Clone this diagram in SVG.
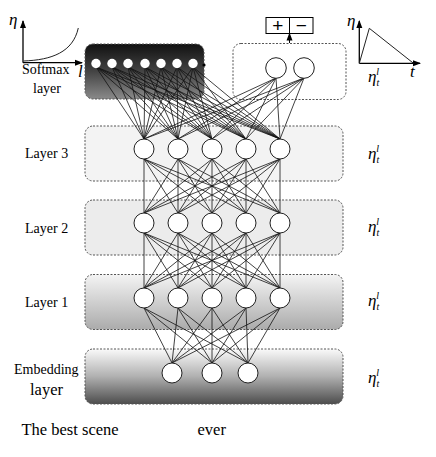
<svg xmlns="http://www.w3.org/2000/svg" width="436" height="457" viewBox="0 0 436 457">
<defs>
<linearGradient id="gSoft" x1="0" y1="0" x2="0" y2="1"><stop offset="0" stop-color="#111"/><stop offset="0.5" stop-color="#444"/><stop offset="1" stop-color="#8a8a8a"/></linearGradient>
<linearGradient id="gL1" x1="0" y1="0" x2="0" y2="1"><stop offset="0" stop-color="#f4f4f4"/><stop offset="1" stop-color="#ababab"/></linearGradient>
<linearGradient id="gEmb" x1="0" y1="0" x2="0" y2="1"><stop offset="0" stop-color="#fafafa"/><stop offset="0.5" stop-color="#b0b0b0"/><stop offset="1" stop-color="#4d4d4d"/></linearGradient>
<marker id="arr" markerUnits="userSpaceOnUse" markerWidth="8" markerHeight="8" refX="7" refY="4" orient="auto"><path d="M0 1L8 4L0 7Z" fill="#000"/></marker>
</defs>
<style>
.box{stroke:#555;stroke-width:1;stroke-dasharray:2 1.5}
.n{fill:#fff;stroke:#222;stroke-width:1}
.d{fill:#fff;stroke:none}
.c{fill:none;stroke:#111;stroke-width:0.8}
.ax{fill:none;stroke:#000;stroke-width:1.3}
.t{font-family:"Liberation Serif","Times New Roman",serif;font-size:14px;fill:#000}
.big{font-size:16.5px}
.it{font-family:"Liberation Serif","Times New Roman",serif;font-style:italic;fill:#000}
.pm{font-family:"Liberation Sans",Arial,sans-serif;font-size:19px;fill:#000}
</style>

<g id="layer-boxes">
<rect class="box" x="85" y="44" width="119" height="55" rx="8" fill="url(#gSoft)"/>
<rect class="box" x="233" y="43.5" width="113" height="56" rx="8" fill="#fff"/>
<rect class="box" x="85" y="126" width="258" height="55" rx="8" fill="#f3f3f3"/>
<rect class="box" x="85" y="200" width="258" height="55" rx="8" fill="#ececec"/>
<rect class="box" x="85" y="274.5" width="258" height="55" rx="8" fill="url(#gL1)"/>
<rect class="box" x="85" y="349" width="258" height="55" rx="8" fill="url(#gEmb)"/>
</g>

<g id="connectors">
<path class="c" d="M96 67L144 139M96 67L178 139M96 67L212 139M96 67L246 139M96 67L280 139
M112 67L144 139M112 67L178 139M112 67L212 139M112 67L246 139M112 67L280 139
M128 67L144 139M128 67L178 139M128 67L212 139M128 67L246 139M128 67L280 139
M145 67L144 139M145 67L178 139M145 67L212 139M145 67L246 139M145 67L280 139
M161 67L144 139M161 67L178 139M161 67L212 139M161 67L246 139M161 67L280 139
M177 67L144 139M177 67L178 139M177 67L212 139M177 67L246 139M177 67L280 139
M193 67L144 139M193 67L178 139M193 67L212 139M193 67L246 139M193 67L280 139
M276 78L144 139M276 78L178 139M276 78L212 139M276 78L246 139M276 78L280 139
M304 78L144 139M304 78L178 139M304 78L212 139M304 78L246 139M304 78L280 139"/>
<path class="c" d="M144 159L144 213M144 159L178 213M144 159L212 213M144 159L246 213M144 159L280 213
M178 159L144 213M178 159L178 213M178 159L212 213M178 159L246 213M178 159L280 213
M212 159L144 213M212 159L178 213M212 159L212 213M212 159L246 213M212 159L280 213
M246 159L144 213M246 159L178 213M246 159L212 213M246 159L246 213M246 159L280 213
M280 159L144 213M280 159L178 213M280 159L212 213M280 159L246 213M280 159L280 213"/>
<path class="c" d="M144 233L144 288M144 233L178 288M144 233L212 288M144 233L246 288M144 233L280 288
M178 233L144 288M178 233L178 288M178 233L212 288M178 233L246 288M178 233L280 288
M212 233L144 288M212 233L178 288M212 233L212 288M212 233L246 288M212 233L280 288
M246 233L144 288M246 233L178 288M246 233L212 288M246 233L246 288M246 233L280 288
M280 233L144 288M280 233L178 288M280 233L212 288M280 233L246 288M280 233L280 288"/>
<path class="c" d="M144 308L172 363M144 308L212 363M144 308L248 363
M178 308L172 363M178 308L212 363M178 308L248 363
M212 308L172 363M212 308L212 363M212 308L248 363
M246 308L172 363M246 308L212 363M246 308L248 363
M280 308L172 363M280 308L212 363M280 308L248 363"/>
<line x1="289.5" y1="43" x2="289.5" y2="33.5" stroke="#000" stroke-width="1" marker-end="url(#arr)"/>
</g>

<g id="softmax-layer">
<circle class="d" cx="96" cy="63.5" r="4.7"/>
<circle class="d" cx="112" cy="63.5" r="4.7"/>
<circle class="d" cx="128" cy="63.5" r="4.7"/>
<circle class="d" cx="145" cy="63.5" r="4.7"/>
<circle class="d" cx="161" cy="63.5" r="4.7"/>
<circle class="d" cx="177" cy="63.5" r="4.7"/>
<circle class="d" cx="193" cy="63.5" r="4.7"/>
<circle cx="204" cy="65" r="1.6" fill="#000"/>
<text class="t" x="22" y="74">Softmax</text>
<text class="t" x="33" y="93">layer</text>
</g>

<g id="output-layer">
<circle class="n" cx="276" cy="68" r="10.3"/>
<circle class="n" cx="304" cy="68" r="10.3"/>
</g>

<g id="sentiment-output">
<rect x="266" y="17.5" width="47" height="16" fill="#fff" stroke="#000" stroke-width="1"/>
<line x1="289.5" y1="17.5" x2="289.5" y2="33.5" stroke="#000" stroke-width="1"/>
<text class="pm" x="277.7" y="32" text-anchor="middle">+</text>
<text class="pm" x="301.3" y="32" text-anchor="middle">−</text>
</g>

<g id="lr-curve-left">
<line class="ax" x1="23" y1="62.7" x2="23" y2="21" marker-end="url(#arr)"/>
<line class="ax" x1="23" y1="62.7" x2="82" y2="62.7" marker-end="url(#arr)"/>
<path d="M23.5 61C52 60 73 52 78.3 28" fill="none" stroke="#222" stroke-width="1"/>
<text class="it" x="9" y="25" font-size="17">η</text>
<text class="it" x="78" y="77" font-size="17">l</text>
</g>

<g id="lr-curve-right">
<line class="ax" x1="359.3" y1="63.3" x2="359.3" y2="21" marker-end="url(#arr)"/>
<line class="ax" x1="359.3" y1="63.3" x2="420" y2="63.3" marker-end="url(#arr)"/>
<path d="M359.3 63.3L369.3 28.3L413.5 63.3" fill="none" stroke="#222" stroke-width="1"/>
<text class="it" x="347" y="26" font-size="17">η</text>
<text class="it" x="410" y="77" font-size="17">t</text>
<text class="it" x="368" y="82" font-size="17">η<tspan font-size="10" dy="4">t</tspan><tspan font-size="10" dx="-3" dy="-11">l</tspan></text>
</g>

<g id="layer3">
<circle class="n" cx="144" cy="149" r="10"/>
<circle class="n" cx="178" cy="149" r="10"/>
<circle class="n" cx="212" cy="149" r="10"/>
<circle class="n" cx="246" cy="149" r="10"/>
<circle class="n" cx="280" cy="149" r="10"/>
<text class="t" x="25" y="157.5">Layer 3</text>
<text class="it" x="368" y="159" font-size="17">η<tspan font-size="10" dy="4">t</tspan><tspan font-size="10" dx="-3" dy="-11">l</tspan></text>
</g>

<g id="layer2">
<circle class="n" cx="144" cy="223" r="10"/>
<circle class="n" cx="178" cy="223" r="10"/>
<circle class="n" cx="212" cy="223" r="10"/>
<circle class="n" cx="246" cy="223" r="10"/>
<circle class="n" cx="280" cy="223" r="10"/>
<text class="t" x="25" y="233">Layer 2</text>
<text class="it" x="368" y="232" font-size="17">η<tspan font-size="10" dy="4">t</tspan><tspan font-size="10" dx="-3" dy="-11">l</tspan></text>
</g>

<g id="layer1">
<circle class="n" cx="144" cy="298" r="10"/>
<circle class="n" cx="178" cy="298" r="10"/>
<circle class="n" cx="212" cy="298" r="10"/>
<circle class="n" cx="246" cy="298" r="10"/>
<circle class="n" cx="280" cy="298" r="10"/>
<text class="t" x="25" y="306.5">Layer 1</text>
<text class="it" x="368" y="306" font-size="17">η<tspan font-size="10" dy="4">t</tspan><tspan font-size="10" dx="-3" dy="-11">l</tspan></text>
</g>

<g id="embedding-layer">
<circle class="n" cx="172" cy="373" r="10"/>
<circle class="n" cx="212" cy="373" r="10"/>
<circle class="n" cx="248" cy="373" r="10"/>
<text class="t" x="14" y="374">Embedding</text>
<text class="t big" x="30" y="395">layer</text>
<text class="it" x="368" y="383" font-size="17">η<tspan font-size="10" dy="4">t</tspan><tspan font-size="10" dx="-3" dy="-11">l</tspan></text>
</g>

<g id="words">
<text class="t big" x="21.5" y="434.5">The best scene</text>
<text class="t big" x="197.5" y="434.5">ever</text>
</g>
</svg>
